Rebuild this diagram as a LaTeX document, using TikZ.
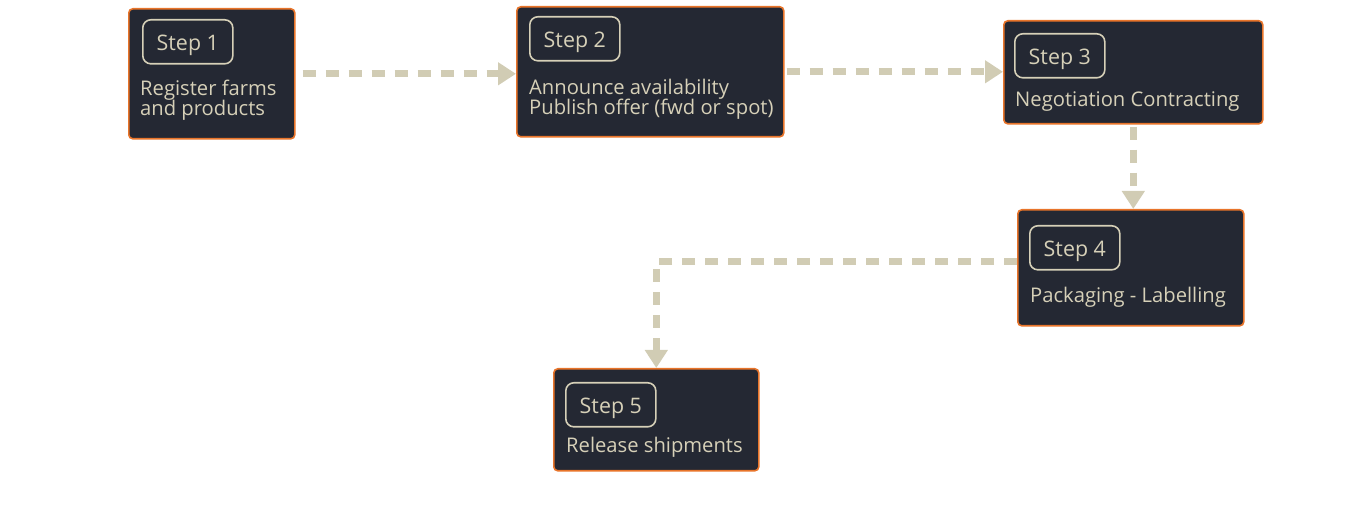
\documentclass[tikz,border=0pt]{standalone}
\usepackage{fontspec}
\setmainfont{Open Sans}
\usetikzlibrary{arrows.meta,calc}
\definecolor{boxfill}{HTML}{242833}
\definecolor{boxline}{HTML}{E8742A}
\definecolor{cream}{HTML}{D6D0B8}
\definecolor{flowc}{HTML}{D1CCB4}
\tikzset{
  stepbox/.style={draw=boxline, fill=boxfill, line width=1.6pt, rounded corners=4pt, anchor=north west, inner sep=0pt},
  badge/.style={draw=cream, line width=1.6pt, rounded corners=8pt, minimum width=90pt, minimum height=44pt, anchor=north west, inner sep=0pt, text=cream, font=\fontsize{21.4}{24}\selectfont, text height=15.3pt, text depth=0pt},
  body/.style={anchor=base west, inner sep=0pt, text=cream, font=\fontsize{20.2}{22}\selectfont},
  flow/.style={draw=flowc, line width=7pt, dash pattern=on 13pt off 10pt, -{Triangle[width=22pt,length=18pt]}},
}
\begin{document}
\begin{tikzpicture}[x=1pt,y=-1pt]
\useasboundingbox (0,0) rectangle (1366,510);
% boxes
\node[stepbox, minimum width=166pt, minimum height=130pt] (b1) at (128,8) {};
\node[stepbox, minimum width=267pt, minimum height=130pt] (b2) at (516,6) {};
\node[stepbox, minimum width=259pt, minimum height=103pt] (b3) at (1003,20) {};
\node[stepbox, minimum width=226pt, minimum height=116pt] (b4) at (1017,209) {};
\node[stepbox, minimum width=205pt, minimum height=102pt] (b5) at (553,368) {};
% badges
\node[badge] (s1) at (142,19) {\raisebox{-1pt}{Step 1}};
\node[badge] (s2) at (529,16) {\raisebox{-1pt}{Step 2}};
\node[badge] (s3) at (1014,33) {\raisebox{-1pt}{Step 3}};
\node[badge] (s4) at (1029,225) {\raisebox{-1pt}{Step 4}};
\node[badge] (s5) at (565,382) {\raisebox{-1pt}{Step 5}};
% texts
\node[body] (t1a) at (140,96) {Register farms};
\node[body] (t1b) at (140,116) {and products};
\node[body] (t2a) at (529,95) {Announce availability};
\node[body] (t2b) at (529,115) {Publish offer (fwd or spot)};
\node[body] (t3) at (1015,107) {Negotiation Contracting};
\node[body] (t4) at (1030,303) {Packaging - Labelling};
\node[body] (t5) at (566,453) {Release shipments};
% connectors
\draw[flow, shorten <=7pt] (b1.east) -- (b1.east -| b2.west);
\draw[flow, shorten <=2pt] (b2.east) -- (b2.east -| b3.west);
\draw[flow, shorten <=2pt] (b3.south) -- (b3.south |- b4.north);
\draw[flow] ([yshift=6pt]b4.west) -| (b5.north);
\end{tikzpicture}
\end{document}
